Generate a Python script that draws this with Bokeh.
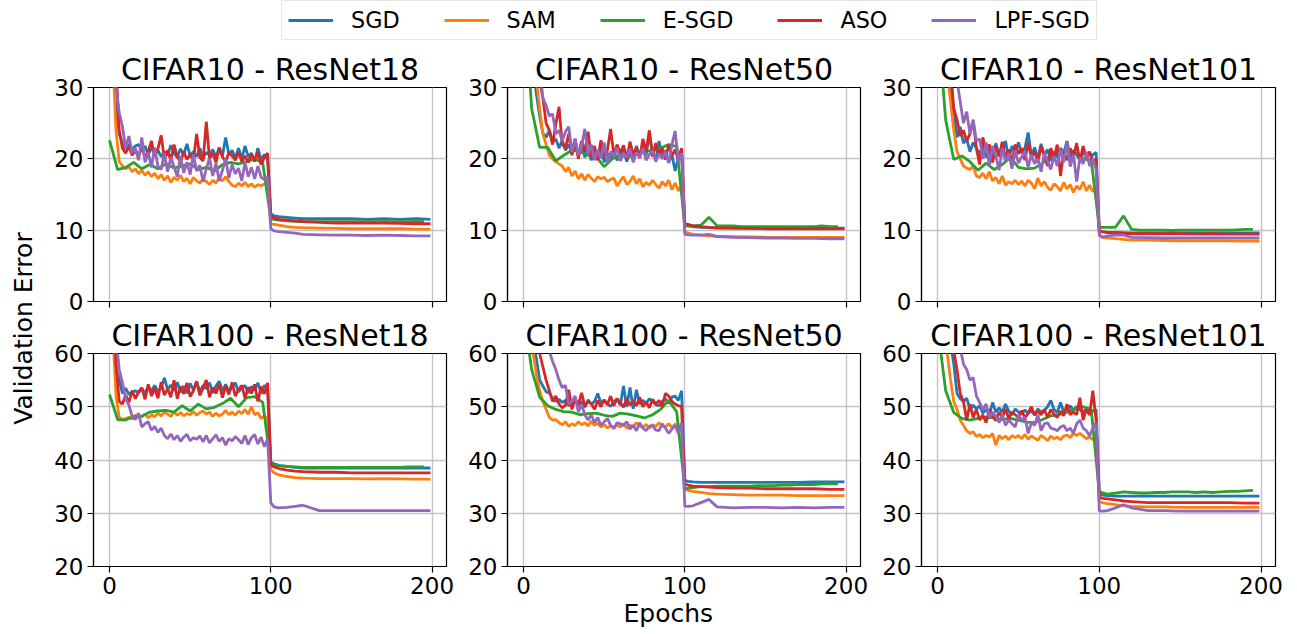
import numpy as np
from bokeh.plotting import figure
from bokeh.layouts import gridplot, row, column
from bokeh.models import Range1d, FixedTicker, Legend, LegendItem, Title
from bokeh.core.properties import value
from bokeh.embed import file_html
from bokeh.resources import INLINE

# ---------------- data ----------------
EPOCHS = list(range(0, 100, 2)) + [100, 102, 105, 110, 115, 120, 130, 140, 150, 160, 170, 180, 190, 199]
EPOCHS_ESGD = list(range(0, 200, 5))
METHODS = ["SGD", "SAM", "E-SGD", "ASO", "LPF-SGD"]
COLORS = ["#1f77b4", "#ff7f0e", "#2ca02c", "#d62728", "#9467bd"]
TITLES = ["CIFAR10 - ResNet18", "CIFAR10 - ResNet50", "CIFAR10 - ResNet101",
          "CIFAR100 - ResNet18", "CIFAR100 - ResNet50", "CIFAR100 - ResNet101"]
YTICKS_C10 = [0, 10, 20, 30]
YTICKS_C100 = [20, 30, 40, 50, 60]
XTICKS = [0, 100, 200]
XLABEL = "Epochs"
YLABEL = "Validation Error"

# CIFAR10 - ResNet18
c10_r18_sgd = [48, 35, 27, 23.5, 22.2, 21.5, 22.0, 21.3, 21.8, 22.0, 21.2, 21.8, 20.6, 21.5, 20.9, 21.2, 20.3, 21.0, 20.5, 21.9,
               20.8, 20.2, 21.4, 20.6, 22.1, 20.4, 21.0, 20.3, 21.5, 20.1, 20.9, 20.5, 21.3, 20.2, 21.6, 20.4, 23.0, 20.6, 21.2, 20.1,
               21.5, 20.0, 21.8, 20.3, 20.8, 19.6, 21.5, 19.8, 20.6, 19.9] + \
              [12.3, 12.0, 11.9, 11.8, 11.7, 11.6, 11.6, 11.6, 11.6, 11.5, 11.6, 11.5, 11.6, 11.5]
c10_r18_sam = [50, 34, 24, 19.6, 19.0, 18.6, 18.9, 18.2, 18.6, 17.9, 18.4, 17.7, 18.2, 17.5, 18.0, 17.2, 17.8, 17.0, 17.6, 16.7,
               17.4, 17.0, 17.7, 16.8, 17.3, 16.5, 17.4, 16.9, 16.6, 17.2, 16.8, 16.4, 17.0, 16.6, 17.3, 16.9, 17.5, 16.8, 16.3, 16.1,
               16.6, 16.2, 16.7, 16.1, 16.5, 16.0, 16.4, 16.2, 16.5, 16.2] + \
              [11.0, 10.8, 10.7, 10.5, 10.4, 10.35, 10.3, 10.25, 10.2, 10.2, 10.2, 10.2, 10.15, 10.15]
c10_r18_esgd = [22.6, 18.5, 18.8, 19.5, 18.6, 19.2, 18.6, 19.3, 18.7, 19.0, 19.3, 18.5, 18.8, 18.3, 19.2, 19.5, 19.3, 19.6, 20.0, 19.4,
                11.6, 11.4, 11.3, 11.25, 11.2, 11.2, 11.2, 11.2, 11.2, 11.2, 11.2, 11.2, 11.2, 11.2, 11.2, 11.2, 11.2, 11.2, 11.2, 11.2]
c10_r18_aso = [60, 45, 33, 24, 21.5, 20.8, 21.8, 20.5, 21.2, 20.4, 21.6, 20.2, 21.0, 22.5, 20.3, 21.4, 23.3, 20.0, 21.2, 19.8,
               22.0, 20.3, 19.6, 21.0, 19.9, 20.6, 19.8, 23.5, 20.2, 19.7, 25.2, 20.0, 20.8, 19.5, 21.5, 20.3, 19.6, 20.9, 20.4, 19.8,
               21.0, 19.6, 20.4, 19.5, 20.7, 19.7, 20.9, 19.2, 20.2, 20.8] + \
              [12.0, 11.7, 11.5, 11.4, 11.3, 11.2, 11.1, 11.0, 11.0, 11.0, 11.0, 10.95, 10.9, 10.9]
c10_r18_lpf = [60, 40, 30, 26.5, 24.5, 21.5, 23.2, 20.8, 21.5, 19.8, 23.0, 19.5, 20.9, 18.8, 21.6, 19.0, 18.5, 20.8, 18.2, 20.2,
               18.9, 17.5, 20.4, 18.0, 19.5, 17.8, 20.6, 18.3, 19.1, 16.8, 18.6, 20.1, 17.6, 19.4, 16.9, 18.4, 20.0, 17.3, 19.2, 17.9,
               18.7, 16.9, 19.5, 17.5, 18.8, 17.2, 19.0, 17.4, 17.1, 17.5] + \
              [10.2, 9.9, 9.8, 9.7, 9.6, 9.4, 9.35, 9.3, 9.3, 9.25, 9.3, 9.25, 9.2, 9.2]

# CIFAR10 - ResNet50
c10_r50_sgd = [70, 55, 42, 33, 29, 26, 23.6, 23.0, 24.0, 22.3, 22.8, 21.5, 22.6, 21.2, 22.0, 20.8, 21.9, 20.5, 22.3, 20.2,
               21.5, 19.8, 21.0, 20.3, 21.6, 19.5, 20.8, 20.0, 21.2, 19.8, 20.4, 21.5, 19.6, 20.9, 20.1, 21.8, 20.3, 22.0, 20.5, 23.4,
               21.0, 19.8, 22.5, 20.3, 21.2, 19.5, 20.6, 18.3, 20.2, 21.3] + \
              [10.8, 10.6, 10.5, 10.4, 10.35, 10.3, 10.3, 10.3, 10.3, 10.3, 10.25, 10.3, 10.3, 10.3]
c10_r50_sam = [80, 62, 48, 38, 31, 27, 23.5, 22.0, 20.5, 20.0, 19.6, 19.3, 19.0, 18.2, 18.8, 17.6, 18.3, 17.2, 17.9, 17.0,
               17.8, 17.3, 16.8, 17.5, 17.2, 17.4, 16.8, 17.1, 17.3, 16.2, 16.9, 17.5, 16.4, 16.8, 17.6, 16.5, 17.2, 16.1, 16.7, 16.3,
               17.0, 16.4, 15.9, 16.8, 16.2, 17.0, 15.7, 16.6, 15.5, 16.4] + \
              [9.8, 9.6, 9.4, 9.3, 9.2, 9.15, 9.1, 9.05, 9.0, 9.0, 9.0, 9.0, 9.0, 9.0]
c10_r50_esgd = [45, 27.1, 21.6, 21.6, 19.7, 20.5, 21.2, 21.0, 20.5, 20.3, 18.9, 20.0, 20.5, 20.3, 20.6, 21.0, 21.2, 21.5, 22.0, 21.7,
                10.6, 10.6, 10.7, 11.8, 10.6, 10.6, 10.6, 10.5, 10.5, 10.5, 10.5, 10.5, 10.5, 10.5, 10.5, 10.5, 10.5, 10.6, 10.5, 10.5]
c10_r50_aso = [75, 60, 48, 40, 34, 31, 28.5, 25.0, 24.0, 22.0, 24.8, 27.3, 22.0, 21.5, 23.5, 20.5, 22.8, 20.0, 22.5, 21.0,
               23.8, 20.2, 21.8, 19.8, 22.6, 20.4, 21.2, 24.2, 20.5, 22.0, 20.8, 21.9, 20.0, 22.4, 20.6, 21.5, 20.1, 22.8, 21.0, 24.0,
               20.3, 22.2, 20.6, 21.5, 19.9, 22.0, 20.4, 21.3, 19.8, 21.5] + \
              [10.9, 10.8, 10.6, 10.5, 10.4, 10.35, 10.3, 10.25, 10.2, 10.2, 10.2, 10.2, 10.2, 10.2]
c10_r50_lpf = [90, 75, 60, 48, 40, 33, 28.5, 27.5, 26.0, 26.3, 23.5, 24.0, 22.5, 23.8, 24.5, 21.0, 22.8, 20.5, 21.8, 24.2,
               20.6, 22.0, 19.8, 21.2, 20.1, 22.3, 19.5, 21.0, 20.4, 21.6, 19.7, 20.8, 20.2, 21.4, 19.5, 20.9, 20.3, 21.5, 19.8, 20.6,
               21.2, 19.6, 20.7, 20.0, 21.0, 19.4, 22.0, 23.9, 19.6, 20.8] + \
              [9.4, 9.35, 9.3, 9.3, 9.4, 9.1, 9.0, 8.95, 8.9, 8.9, 8.85, 8.85, 8.8, 8.8]

# CIFAR10 - ResNet101
c10_r101_sgd = [75, 55, 42, 34, 30, 27, 23.0, 24.5, 22.2, 22.8, 21.0, 22.3, 21.5, 20.6, 22.0, 20.2, 21.4, 19.8, 22.2, 20.5,
                21.0, 22.5, 20.0, 21.8, 20.6, 22.3, 20.8, 21.5, 23.7, 20.4, 21.6, 20.0, 22.1, 20.5, 21.3, 19.7, 21.0, 20.2, 21.5, 20.8,
                22.5, 20.1, 21.2, 20.6, 19.8, 21.0, 20.3, 19.5, 20.6, 20.9] + \
               [9.8, 9.75, 9.7, 9.7, 9.65, 9.6, 9.6, 9.6, 9.6, 9.6, 9.6, 9.6, 9.6, 9.6]
c10_r101_sam = [75, 55, 40, 32, 28, 24, 21.0, 20.0, 19.0, 18.7, 18.5, 19.0, 17.6, 17.4, 18.0, 17.2, 18.2, 16.9, 17.4, 16.5,
                17.6, 16.3, 16.8, 16.5, 17.0, 16.4, 16.9, 16.2, 17.0, 16.6, 15.8, 17.3, 16.2, 16.8, 16.0, 15.6, 16.5, 16.1, 15.5, 16.7,
                15.8, 16.4, 15.3, 16.2, 15.7, 16.8, 15.5, 16.3, 15.4, 15.9] + \
               [9.2, 9.0, 8.9, 8.8, 8.7, 8.6, 8.6, 8.55, 8.5, 8.5, 8.5, 8.5, 8.45, 8.45]
c10_r101_esgd = [40, 25.4, 19.9, 20.4, 19.6, 18.4, 19.4, 18.5, 19.2, 20.2, 18.8, 18.6, 18.7, 19.4, 20.5, 21.0, 21.0, 20.7, 20.0, 19.8,
                 10.4, 10.4, 10.4, 12.0, 10.1, 10.0, 10.0, 10.0, 10.0, 9.95, 10.0, 10.0, 10.0, 10.0, 10.0, 10.0, 10.0, 10.05, 10.1, 10.1]
c10_r101_aso = [80, 65, 50, 40, 33, 27, 25.5, 23.2, 24.0, 22.5, 23.5, 25.3, 21.5, 19.2, 23.0, 21.0, 22.0, 19.5, 21.8, 20.3,
                22.4, 20.0, 21.3, 19.4, 22.0, 20.7, 21.5, 19.8, 22.3, 20.2, 21.0, 19.5, 21.8, 20.4, 19.0, 21.5, 20.1, 22.0, 17.6, 21.0,
                19.8, 21.5, 20.2, 22.2, 19.6, 21.8, 20.0, 21.0, 19.5, 20.0] + \
               [9.9, 9.8, 9.7, 9.6, 9.55, 9.5, 9.5, 9.5, 9.5, 9.45, 9.5, 9.45, 9.45, 9.45]
c10_r101_lpf = [90, 75, 60, 48, 40, 34, 31, 28.0, 25.0, 26.6, 23.5, 25.5, 22.5, 22.8, 20.0, 22.3, 19.0, 21.8, 20.5, 18.4,
                21.5, 19.6, 20.8, 18.6, 21.2, 19.4, 20.3, 21.0, 18.8, 20.6, 19.3, 20.0, 18.2, 20.8, 19.7, 18.5, 20.4, 19.0, 21.4, 19.5,
                22.3, 18.9, 20.6, 16.8, 20.2, 19.3, 21.0, 19.0, 20.0, 18.5] + \
               [9.4, 9.0, 9.2, 9.3, 9.3, 9.0, 8.95, 8.9, 8.9, 8.9, 8.9, 8.9, 8.9, 8.9]

# CIFAR100 - ResNet18
c100_r18_sgd = [80, 66, 57, 55.0, 52.5, 53.5, 52.3, 52.8, 53.0, 52.6, 53.4, 52.5, 53.8, 53.0, 54.0, 52.8, 53.6, 55.4, 53.2, 54.1,
                53.0, 54.6, 52.7, 53.9, 52.5, 54.4, 53.1, 54.7, 52.8, 54.0, 53.4, 54.5, 52.6, 53.9, 54.8, 53.0, 54.2, 52.9, 53.6, 54.5,
                52.8, 53.5, 54.0, 52.6, 53.8, 53.1, 54.5, 52.5, 54.0, 53.6] + \
               [39.6, 39.3, 39.0, 38.8, 38.6, 38.5, 38.5, 38.5, 38.5, 38.5, 38.5, 38.5, 38.5, 38.5]
c100_r18_sam = [80, 64, 52, 48.0, 47.6, 47.8, 48.0, 47.7, 48.4, 48.0, 48.2, 48.6, 47.9, 48.5, 48.1, 48.8, 48.3, 49.0, 48.6, 48.2,
                49.0, 48.4, 48.9, 48.3, 48.7, 48.5, 49.1, 48.4, 48.9, 49.2, 48.6, 49.0, 48.2, 48.8, 48.3, 48.6, 49.3, 48.5, 49.0, 48.4,
                49.2, 48.7, 49.5, 48.6, 50.0, 48.5, 48.9, 47.8, 48.3, 47.6] + \
               [38.2, 37.6, 37.2, 36.9, 36.7, 36.6, 36.5, 36.5, 36.5, 36.45, 36.5, 36.45, 36.4, 36.4]
c100_r18_esgd = [52.3, 47.6, 47.5, 48.2, 48.2, 49.0, 49.2, 49.3, 49.0, 50.2, 49.2, 50.5, 49.6, 49.9, 50.6, 51.6, 50.0, 51.7, 51.9, 50.8,
                 39.2, 38.9, 38.8, 38.7, 38.6, 38.6, 38.6, 38.6, 38.6, 38.6, 38.6, 38.6, 38.6, 38.6, 38.6, 38.6, 38.6, 38.7, 38.7, 38.7]
c100_r18_aso = [85, 70, 58, 51.0, 50.5, 52.2, 50.8, 53.0, 51.5, 52.8, 53.6, 51.4, 54.2, 52.0, 53.5, 51.6, 54.6, 52.2, 53.4, 51.8,
                55.0, 51.5, 53.8, 52.4, 54.5, 51.9, 53.0, 54.8, 52.1, 53.5, 55.0, 51.8, 53.6, 52.5, 54.3, 51.7, 53.9, 52.3, 54.6, 52.0,
                53.2, 54.0, 51.6, 53.7, 52.5, 54.2, 51.0, 53.8, 52.4, 54.5] + \
               [39.0, 38.7, 38.4, 38.1, 37.9, 37.8, 37.7, 37.7, 37.6, 37.6, 37.6, 37.6, 37.6, 37.6]
c100_r18_lpf = [90, 75, 63, 57.0, 54.5, 51.5, 50.3, 48.2, 47.6, 48.8, 46.2, 46.8, 47.2, 45.6, 46.3, 45.2, 46.0, 44.6, 44.0, 44.9,
                43.8, 44.6, 43.5, 44.3, 44.8, 43.6, 44.2, 43.9, 44.5, 43.4, 44.6, 43.2, 44.0, 44.7, 43.5, 44.2, 42.8, 44.0, 43.6, 44.4,
                43.8, 43.1, 44.6, 42.9, 44.2, 44.8, 43.0, 44.3, 42.5, 44.0] + \
               [32.0, 31.2, 31.0, 31.1, 31.3, 31.5, 30.5, 30.5, 30.5, 30.5, 30.5, 30.5, 30.5, 30.5]

# CIFAR100 - ResNet50
c100_r50_sgd = [85, 75, 67, 62, 59, 55, 53.9, 52.8, 52.6, 51.5, 51.0, 51.4, 50.8, 51.2, 50.2, 50.8, 51.1, 50.3, 51.0, 49.9,
                51.3, 50.5, 51.0, 52.5, 50.7, 51.2, 50.5, 50.1, 50.9, 51.5, 50.3, 53.9, 50.0, 53.6, 49.6, 53.2, 50.5, 51.2, 50.6, 51.5,
                51.0, 50.4, 50.2, 51.0, 51.5, 50.6, 51.8, 52.0, 51.2, 53.0] + \
               [36.2, 36.0, 35.9, 35.8, 35.8, 35.8, 35.8, 35.8, 35.8, 35.8, 35.8, 35.9, 35.9, 35.9]
c100_r50_sam = [85, 75, 66, 60, 56, 53, 51.0, 49.5, 48.0, 47.5, 47.6, 47.0, 46.6, 47.2, 46.3, 46.8, 46.5, 47.2, 46.6, 47.0,
                46.4, 47.3, 46.5, 46.9, 46.2, 46.7, 46.0, 46.5, 45.9, 46.6, 46.2, 46.8, 46.0, 46.5, 46.3, 47.0, 46.4, 46.1, 46.7, 46.0,
                46.6, 46.3, 47.0, 46.4, 46.2, 46.8, 46.1, 46.7, 46.4, 46.0] + \
               [34.6, 34.3, 34.1, 33.9, 33.7, 33.6, 33.5, 33.4, 33.4, 33.4, 33.3, 33.3, 33.3, 33.3]
c100_r50_esgd = [68, 57, 51.8, 50.2, 49.5, 49.1, 49.0, 48.5, 48.7, 48.8, 48.4, 48.2, 48.8, 48.6, 48.3, 47.9, 48.5, 49.5, 51.2, 49.0,
                 34.6, 34.8, 35.0, 35.0, 35.1, 35.1, 35.1, 35.1, 35.1, 35.2, 35.2, 35.2, 35.3, 35.3, 35.4, 35.4, 35.4, 35.5, 35.5, 35.5]
c100_r50_aso = [90, 80, 72, 66, 62, 60, 57.5, 55.0, 53.0, 51.0, 52.0, 50.5, 49.8, 50.3, 53.2, 49.5, 51.5, 50.4, 52.6, 50.1,
                51.0, 50.6, 49.5, 51.2, 50.0, 51.3, 50.4, 52.0, 50.2, 51.5, 50.8, 49.9, 51.6, 50.3, 51.0, 50.2, 51.8, 50.0, 50.9, 49.8,
                51.4, 50.5, 51.2, 50.0, 52.5, 52.0, 51.0, 50.5, 50.2, 50.0] + \
               [35.5, 35.3, 35.1, 35.0, 34.9, 34.8, 34.7, 34.7, 34.6, 34.6, 34.6, 34.6, 34.5, 34.5]
c100_r50_lpf = [95, 88, 80, 74, 69, 66, 64, 62, 60.5, 58.5, 57.0, 55.0, 53.6, 54.0, 50.5, 51.0, 52.0, 49.0, 50.5, 48.5,
                47.5, 48.5, 47.0, 48.0, 46.5, 47.2, 47.8, 46.5, 46.0, 47.0, 46.8, 46.5, 47.2, 45.8, 46.5, 45.5, 47.0, 46.0, 45.5, 46.3,
                46.5, 45.6, 45.5, 46.8, 46.0, 45.0, 45.8, 46.5, 45.0, 47.0] + \
               [31.3, 31.3, 31.4, 32.0, 32.6, 31.2, 31.0, 31.1, 31.1, 31.0, 31.1, 31.0, 31.1, 31.1]

# CIFAR100 - ResNet101
c100_r101_sgd = [90, 80, 72, 66, 62, 58, 52.5, 51.5, 51.0, 51.6, 49.5, 50.3, 49.6, 50.2, 48.8, 49.5, 48.5, 50.8, 49.0, 49.8,
                 49.0, 50.5, 49.2, 48.5, 49.6, 49.0, 48.6, 49.4, 48.8, 49.2, 48.5, 49.6, 49.0, 49.3, 50.0, 51.2, 49.5, 48.9, 50.8, 49.0,
                 49.6, 50.2, 49.3, 50.0, 49.5, 48.9, 49.7, 48.5, 49.2, 49.5] + \
                [33.6, 33.4, 33.3, 33.2, 33.2, 33.2, 33.2, 33.2, 33.2, 33.2, 33.2, 33.2, 33.2, 33.2]
c100_r101_sam = [85, 75, 66, 60, 55, 51, 49.5, 47.5, 46.5, 45.5, 45.0, 45.3, 44.4, 44.8, 44.2, 44.6, 44.3, 45.0, 42.8, 44.6,
                 44.0, 44.5, 43.8, 44.6, 44.2, 44.6, 44.0, 44.8, 43.9, 44.5, 44.1, 43.7, 44.6, 44.2, 43.6, 44.5, 44.0, 44.3, 43.8, 44.5,
                 44.7, 44.2, 45.0, 44.6, 45.0, 44.5, 44.0, 44.3, 43.8, 45.0] + \
                [32.2, 32.0, 31.8, 31.6, 31.4, 31.3, 31.2, 31.2, 31.1, 31.1, 31.1, 31.1, 31.1, 31.1]
c100_r101_esgd = [65, 53, 48.9, 47.8, 47.5, 47.8, 48.0, 47.9, 47.6, 47.8, 47.5, 47.1, 47.0, 47.6, 48.3, 48.5, 49.0, 49.6, 50.0, 49.5,
                  34.0, 33.6, 33.8, 34.0, 33.9, 33.8, 33.8, 33.9, 33.9, 34.0, 34.0, 34.0, 33.9, 34.0, 33.9, 34.0, 34.1, 34.1, 34.2, 34.3]
c100_r101_aso = [90, 82, 75, 69, 64, 60.5, 57, 52.5, 51.0, 47.5, 50.5, 48.0, 49.5, 47.5, 48.5, 47.0, 49.5, 48.2, 47.4, 49.0,
                 48.0, 49.6, 47.8, 49.0, 48.5, 48.0, 49.3, 47.9, 48.8, 50.0, 48.4, 49.2, 48.5, 49.5, 48.0, 49.5, 48.6, 48.0, 49.2, 48.3,
                 50.5, 48.5, 49.0, 48.5, 51.7, 47.5, 49.5, 48.5, 53.0, 47.5] + \
                [33.0, 32.8, 32.7, 32.5, 32.3, 32.2, 32.0, 32.0, 32.0, 32.0, 32.0, 32.0, 31.9, 31.9]
c100_r101_lpf = [95, 88, 82, 76, 71, 67, 63, 61, 58, 57, 55, 55.5, 52.0, 50.8, 49.5, 50.5, 48.0, 49.0, 48.2, 47.0,
                 48.5, 46.5, 47.5, 46.8, 46.2, 48.5, 47.5, 48.0, 45.0, 47.0, 46.5, 48.5, 45.5, 46.8, 47.0, 46.0, 45.8, 45.5, 46.2, 46.5,
                 45.5, 46.0, 45.0, 46.8, 47.5, 46.0, 45.5, 44.5, 46.0, 47.0] + \
                [30.4, 30.4, 30.5, 31.0, 31.6, 31.0, 30.5, 30.5, 30.4, 30.4, 30.4, 30.4, 30.4, 30.4]

PANELS = [
    (TITLES[0], (0, 30), YTICKS_C10, [c10_r18_sgd, c10_r18_sam, c10_r18_esgd, c10_r18_aso, c10_r18_lpf]),
    (TITLES[1], (0, 30), YTICKS_C10, [c10_r50_sgd, c10_r50_sam, c10_r50_esgd, c10_r50_aso, c10_r50_lpf]),
    (TITLES[2], (0, 30), YTICKS_C10, [c10_r101_sgd, c10_r101_sam, c10_r101_esgd, c10_r101_aso, c10_r101_lpf]),
    (TITLES[3], (20, 60), YTICKS_C100, [c100_r18_sgd, c100_r18_sam, c100_r18_esgd, c100_r18_aso, c100_r18_lpf]),
    (TITLES[4], (20, 60), YTICKS_C100, [c100_r50_sgd, c100_r50_sam, c100_r50_esgd, c100_r50_aso, c100_r50_lpf]),
    (TITLES[5], (20, 60), YTICKS_C100, [c100_r101_sgd, c100_r101_sam, c100_r101_esgd, c100_r101_aso, c100_r101_lpf]),
]

FONT = "DejaVu Sans"
YLAB_W = 38
COL_W = [418, 414, 419]
COL_L = [55, 51, 51]
COL_R = [10, 10, 14]
FRAME_H = 214
ROW_TOP = [45, 37]
ROW_BOT = [14, 67]
LEG_H = 42
LINE_W = 2.8


def make_panel(idx):
    title, (ylo, yhi), yticks, series = PANELS[idx]
    r, c = divmod(idx, 3)
    top, bottom = ROW_TOP[r], ROW_BOT[r]
    p = figure(width=COL_W[c], height=top + FRAME_H + bottom,
               x_range=Range1d(-9.95, 208.95), y_range=Range1d(ylo, yhi),
               output_backend="svg", toolbar_location=None, title=title,
               min_border_left=COL_L[c], min_border_right=COL_R[c], min_border_top=top, min_border_bottom=bottom)
    p.title.align = "center"
    p.title.text_font = FONT
    p.title.text_font_size = "30px"
    p.title.text_font_style = "normal"
    p.title.text_color = "black"
    p.title.standoff = 1
    p.outline_line_color = "black"
    p.outline_line_width = 1.2
    p.xaxis.ticker = FixedTicker(ticks=XTICKS)
    p.yaxis.ticker = FixedTicker(ticks=yticks)
    for ax in (p.xaxis, p.yaxis):
        ax.minor_tick_line_color = None
        ax.major_tick_out = 6
        ax.major_tick_in = 0
        ax.major_tick_line_color = "black"
        ax.major_tick_line_width = 1.2
        ax.axis_line_color = "black"
        ax.axis_line_width = 1.2
        ax.major_label_text_font = FONT
        ax.major_label_text_font_size = "23px"
        ax.major_label_text_color = "black"
        ax.major_label_standoff = 4
    if r == 0:
        # shared x axis: ticks only, no labels on the upper row
        p.xaxis.major_label_text_color = None
        p.xaxis.major_label_text_font_size = "0px"
    p.grid.grid_line_color = "#c4c4c4"
    p.grid.grid_line_width = 1.4
    for k, ys in enumerate(series):
        xs = EPOCHS_ESGD if METHODS[k] == "E-SGD" else EPOCHS
        n = min(len(xs), len(ys))
        p.line(xs[:n], ys[:n], line_color=COLORS[k], line_width=LINE_W)
    return p


panels = [make_panel(i) for i in range(6)]

# shared x label, placed under the middle bottom panel (left-aligned with an offset)
xlab = Title(text=XLABEL, align="left", offset=116, standoff=0,
             text_font=FONT, text_font_size="25px", text_font_style="normal", text_color="black")
panels[4].add_layout(xlab, "below")

grid = gridplot([panels[0:3], panels[3:6]], toolbar_location=None)

RIGHT_W = sum(COL_W)

# legend strip
leg = figure(width=RIGHT_W, height=LEG_H, x_range=Range1d(0, 1), y_range=Range1d(0, 1),
             output_backend="svg", toolbar_location=None, x_axis_type=None, y_axis_type=None, min_border=0)
leg.outline_line_color = None
leg.grid.visible = False
items = []
for k, m in enumerate(METHODS):
    rr = leg.line([0, 1], [5, 5], line_color=COLORS[k], line_width=LINE_W)
    items.append(LegendItem(label=m, renderers=[rr]))
legend = Legend(items=items, orientation="horizontal", location=(243, 2),
                glyph_width=45, glyph_height=20, label_standoff=18, spacing=44, padding=6, margin=0,
                label_text_font=FONT, label_text_font_size="22.3px", label_text_color="black",
                border_line_color="#cccccc", border_line_width=1.5, background_fill_color="white",
                background_fill_alpha=1.0)
leg.add_layout(legend)

# y label strip
TOTAL_H = LEG_H + sum(ROW_TOP) + 2 * FRAME_H + sum(ROW_BOT)
yl = figure(width=YLAB_W, height=TOTAL_H, x_range=Range1d(0, YLAB_W), y_range=Range1d(0, TOTAL_H),
            output_backend="svg", toolbar_location=None, x_axis_type=None, y_axis_type=None, min_border=0)
yl.outline_line_color = None
yl.grid.visible = False
yl.text(x=[23], y=[TOTAL_H - 328], text=[YLABEL], angle=np.pi / 2, text_align="center",
        text_baseline="middle", text_font=value(FONT), text_font_size="25px", text_color="black")

layout = row(yl, column(leg, grid))

open("out.html", "w").write(file_html(layout, INLINE))
